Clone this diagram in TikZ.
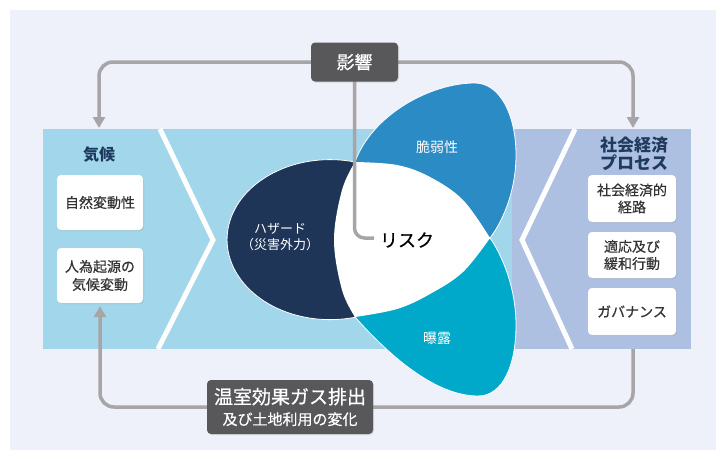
\documentclass[tikz,border=0pt]{standalone}
\usepackage{fontspec}
\setmainfont{Noto Sans CJK JP}
\newfontfamily\medf[FakeBold=0.5]{Noto Sans CJK JP}
\usetikzlibrary{arrows.meta,shadows}
\definecolor{bgc}{HTML}{EEF1F9}
\definecolor{bandblue}{HTML}{A2D6EA}
\definecolor{bandlav}{HTML}{AEC0E2}
\definecolor{hazc}{HTML}{1F3558}
\definecolor{vulc}{HTML}{2A8BC5}
\definecolor{expc}{HTML}{00A8C9}
\definecolor{darkbox}{HTML}{58575A}
\definecolor{conng}{HTML}{A8A5A8}
\definecolor{titlec}{HTML}{1F3A5F}
\definecolor{boxtxt}{HTML}{333333}
\begin{document}
\begin{tikzpicture}[x=1pt,y=-1pt,
  conn/.style={draw=conng, line width=3.5pt, rounded corners=14pt},
  arr/.style={-{Triangle[width=12pt,length=11pt]}},
  wbox/.style={fill=white, rounded corners=4pt, align=center, inner sep=0pt,
    text=boxtxt, font=\medf\fontsize{14}{18}\selectfont,
    drop shadow={opacity=0.18, shadow xshift=1pt, shadow yshift=-1pt}},
  dbox/.style={fill=darkbox, rounded corners=4pt, align=center, inner sep=0pt,
    text=white, drop shadow={opacity=0.2, shadow xshift=1pt, shadow yshift=-1pt}},
  ptl/.style={text=white, align=center, font=\fontsize{14}{16}\selectfont},
  ttl/.style={text=titlec, align=center, font=\bfseries\fontsize{16}{18}\selectfont},
  chev/.style={draw=white, line width=5pt},
  petal/.style={draw=white, line width=0.8pt}
]
\useasboundingbox (0,0) rectangle (725,461);
\fill[white] (0,0) rectangle (725,461);
\fill[bgc] (10,10) rectangle (716,450);
% band
\fill[bandblue] (43,129) rectangle (512,349);
\fill[bandlav] (512,129) rectangle (691,349);
\draw[chev] (160,129) -- (213,240) -- (158,349);
\draw[chev] (575,129) -- (522,240) -- (572,349);
% petals
\fill[hazc, petal] (355,162) arc[start angle=-76, end angle=-284, x radius=103, y radius=80] -- cycle;
\fill[vulc, petal] (490,238) .. controls (500,225) and (516,195) .. (516,155)
  .. controls (516,115) and (500,83) .. (475,83)
  .. controls (430,83) and (372,115) .. (355,162) -- cycle;
\fill[expc, petal] (355,317) .. controls (380,345) and (430,396) .. (478,396)
  .. controls (503,396) and (516,365) .. (516,325)
  .. controls (516,285) and (500,252) .. (490,238) -- cycle;
\fill[white] plot[smooth, tension=0.6] coordinates {(355,162) (397,165) (430,177) (463,200) (490,238)}
  -- plot[smooth, tension=0.6] coordinates {(490,238) (463,272) (430,294) (397,309) (355,317)}
  -- plot[smooth, tension=0.6] coordinates {(355,317) (342,290) (334,240) (342,190) (355,162)} -- cycle;
% petal labels
\node[ptl] (vul) at (437,147) {脆弱性};
\node[ptl] (exp) at (437,338) {曝露};
\node[ptl, font=\fontsize{13}{16}\selectfont] (haz) at (280,237) {ハザード\\（災害外力）};
\node[text=black, font=\medf\fontsize{18}{22}\selectfont, inner sep=0pt] (risk) at (407,240) {リスク};
% titles
\node[ttl] (kiko) at (99,155) {気候};
\node[ttl, font=\bfseries\fontsize{17}{18}\selectfont] (shakai) at (634,153.5) {社会経済\\プロセス};
% boxes left
\node[wbox, minimum width=86pt, minimum height=55pt] (lb1) at (100,202.5) {自然変動性};
\node[wbox, minimum width=86pt, minimum height=55pt] (lb2) at (100,275.5) {人為起源の\\気候変動};
% boxes right
\node[wbox, minimum width=88pt, minimum height=47pt, font=\medf\fontsize{14}{17}\selectfont] (rb1) at (632,198.5) {社会経済的\\経路};
\node[wbox, minimum width=88pt, minimum height=46pt, font=\medf\fontsize{14}{17}\selectfont] (rb2) at (632,255) {適応及び\\緩和行動};
\node[wbox, minimum width=88pt, minimum height=47pt] (rb3) at (632,311.5) {ガバナンス};
% connector coordinates
\coordinate (kikoTop) at (99,128);
\coordinate (shakaiTop) at (633,128);
\coordinate (shakaiBot) at (633,349);
\coordinate (riskIn) at (374,238);
\coordinate (eikyoC) at (354.5,62);
\coordinate (ghgC) at (290,407);
% connectors
\draw[conn, arr] (eikyoC) -| (kikoTop);
\draw[conn, arr] (eikyoC) -| (shakaiTop);
\draw[conn, rounded corners=10pt] (eikyoC) |- (riskIn);
\draw[conn] (shakaiBot) |- (ghgC);
\draw[conn, arr, shorten >=3pt] (ghgC) -| (lb2.south);
% dark boxes on top of lines
\node[dbox, minimum width=87pt, minimum height=39pt, font=\medf\fontsize{18}{20}\selectfont] (eikyo) at (eikyoC) {影響};
\node[dbox, minimum width=166pt, minimum height=54pt, font=\medf\fontsize{15}{21}\selectfont] (ghg) at (ghgC) {{\fontsize{19}{21}\selectfont 温室効果ガス排出}\\{\fontsize{15}{21}\selectfont 及び土地利用の変化}};
\end{tikzpicture}
\end{document}
